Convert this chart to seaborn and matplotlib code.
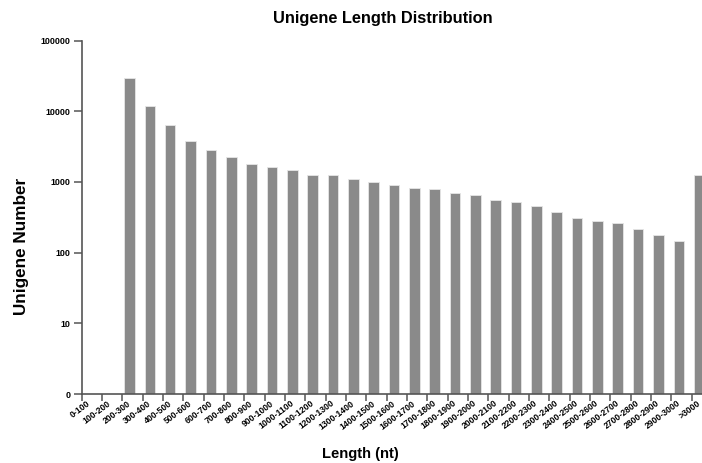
import numpy as np
import seaborn as sns
import matplotlib.pyplot as plt

# length bins (nt) and number of unigenes in each bin
bins = ["0-100", "100-200", "200-300", "300-400", "400-500", "500-600",
        "600-700", "700-800", "800-900", "900-1000", "1000-1100", "1100-1200",
        "1200-1300", "1300-1400", "1400-1500", "1500-1600", "1600-1700",
        "1700-1800", "1800-1900", "1900-2000", "2000-2100", "2100-2200",
        "2200-2300", "2300-2400", "2400-2500", "2500-2600", "2600-2700",
        "2700-2800", "2800-2900", "2900-3000", ">3000"]
counts = [0, 0, 29300, 11900, 6370, 3740, 2825, 2254, 1795, 1607, 1490,
          1255, 1255, 1102, 1000, 916, 812, 787, 699, 656, 557, 516, 449,
          373, 313, 284, 261, 219, 179, 147, 1267]

yticks = [1, 10, 100, 1000, 10000, 100000]
ytick_labels = ["0", "10", "100", "1000", "10000", "100000"]

if __name__ == "__main__":
    sns.set_style("ticks")
    plt.rcParams["font.family"] = ["Liberation Sans", "DejaVu Sans"]
    plt.rcParams["font.weight"] = "bold"
    plt.rcParams["text.color"] = "black"
    plt.rcParams["xtick.labelcolor"] = "black"
    plt.rcParams["ytick.labelcolor"] = "black"

    fig = plt.figure(figsize=[7.02, 4.63], dpi=100)
    ax = fig.add_axes([81.5 / 702, 69 / 463, 620.5 / 702, 353.5 / 463])

    sns.barplot(x=bins, y=counts, color="#8a8a8a", saturation=1, width=0.52,
                edgecolor="#e6e6e6", linewidth=0.6, ax=ax)
    ax.set_yscale("log")
    ax.set_ylim(1, 100000)
    ax.set_xlim(-0.36, 30.14)

    ax.set_yticks(yticks)
    ax.set_yticklabels(ytick_labels, fontsize=6.4, fontweight="bold")
    ax.yaxis.set_minor_locator(plt.NullLocator())

    n = len(bins)
    # tick marks sit in the gaps left of each bar, labels under the bars
    ax.set_xticks(np.arange(n) - 0.36, minor=True)
    ax.set_xticks(np.arange(n) + 0.02)
    ax.set_xticklabels(bins, rotation=37, ha="right", va="center",
                       rotation_mode="anchor", fontsize=6.2, fontweight="bold")
    ax.tick_params(axis="x", which="major", length=0, pad=6,
                   labelcolor="black")
    ax.tick_params(axis="x", which="minor", length=5, width=1.1,
                   color="#555555")
    ax.tick_params(axis="y", length=6, width=1.1, color="#555555", pad=2,
                   labelcolor="black")

    sns.despine(ax=ax)
    for side in ["left", "bottom"]:
        ax.spines[side].set_color("#555555")
        ax.spines[side].set_linewidth(1.2)
    ax.set_xlabel("")
    ax.set_ylabel("")

    fig.text(382.5 / 702, 1 - 23 / 463, "Unigene Length Distribution",
             ha="center", va="baseline", fontsize=11.8, fontweight="bold",
             color="black")
    fig.text(360 / 702, 4.7 / 463, "Length (nt)", ha="center",
             va="baseline", fontsize=10.6, fontweight="bold", color="black")
    fig.text(21.5 / 702, 217 / 463, "Unigene Number", rotation=90,
             ha="center", va="center", fontsize=12.3, fontweight="bold",
             color="black")

    plt.savefig("out.png", dpi=100)
